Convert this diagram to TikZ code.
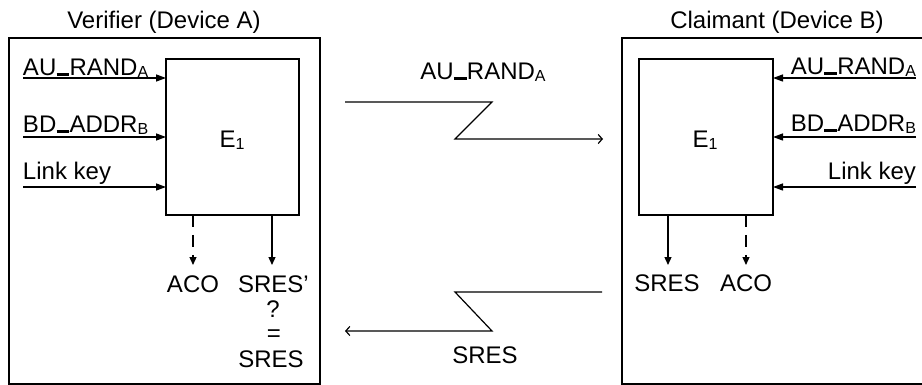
\documentclass[tikz,border=0pt]{standalone}
\usepackage{fontspec}
\setmainfont{Liberation Sans}
\usetikzlibrary{arrows.meta}
\newcommand\subs[1]{\raisebox{-1.5pt}{\fontsize{16}{16}\selectfont #1}}
\newcommand\usc{\kern0.01em\rule{0.53em}{0.12em}\kern0.01em}
\begin{document}
\begin{tikzpicture}[x=1pt,y=-1pt,
  every node/.style={font=\fontsize{24}{28}\selectfont, inner sep=0pt, outer sep=0pt},
  box/.style={draw, line width=1.6pt, minimum width=#1, anchor=north west},
  inarrow/.style={line width=1.3pt, -{Triangle[length=10pt,width=7pt]}},
  outarrow/.style={line width=1.3pt, -{Triangle[length=8pt,width=7pt]}},
  dasharrow/.style={outarrow, dash pattern=on 12pt off 8pt},
  link/.style={line width=1.2pt, -{Straight Barb[length=4pt,width=9pt]}}]
\useasboundingbox (0,0) rectangle (922,385);
\clip (0,0) rectangle (922,385);

% outer boxes
\node[box=311pt, minimum height=346pt] (devA) at (9,38) {};
\node[box=312pt, minimum height=346pt] (devB) at (622,38) {};
\node[anchor=base] (titleA) at (164,29) {Verifier (Device A)};
\node[anchor=base] (titleB) at (777,29) {Claimant (Device B)};

% inner boxes
\node[box=133pt, minimum height=156pt] (E1a) at (166,59) {};
\node[box=134pt, minimum height=156pt] (E1b) at (639,59) {};
\node[anchor=base] (E1aLabel) at (232,148) {E\subs{1}};
\node[anchor=base] (E1bLabel) at (705,148) {E\subs{1}};

% inputs device A
\coordinate (ia1) at (23,78);
\coordinate (ia2) at (23,137);
\coordinate (ia3) at (23,187);
\draw[inarrow] (ia1) -- (ia1 -| E1a.west);
\draw[inarrow] (ia2) -- (ia2 -| E1a.west);
\draw[inarrow] (ia3) -- (ia3 -| E1a.west);
\node[anchor=base west] (laA1) at (23,76) {AU\usc RAND\subs{A}};
\node[anchor=base west] (laA2) at (23,133) {BD\usc ADDR\subs{B}};
\node[anchor=base west] (laA3) at (23,180) {Link key};

% inputs device B
\coordinate (ib1) at (916,78);
\coordinate (ib2) at (916,137);
\coordinate (ib3) at (916,187);
\draw[inarrow] (ib1) -- (ib1 -| E1b.east);
\draw[inarrow] (ib2) -- (ib2 -| E1b.east);
\draw[inarrow] (ib3) -- (ib3 -| E1b.east);
\node[anchor=base east] (lbB1) at (916,75) {AU\usc RAND\subs{A}};
\node[anchor=base east] (lbB2) at (916,132) {BD\usc ADDR\subs{B}};
\node[anchor=base east] (lbB3) at (916,180) {Link key};

% outputs device A
\node[anchor=base] (acoA) at (193,292) {ACO};
\node[anchor=base west] (sresA) at (238,292) {SRES'};
\node[anchor=base] (qm) at (273,317) {?};
\node[anchor=center] (eq) at (274,336) {=};
\node[anchor=base] (sresA2) at (271,367) {SRES};
\coordinate (oa1) at (193,265);
\coordinate (oa2) at (272,265);
\draw[dasharrow] (oa1 |- E1a.south) -- (oa1);
\draw[outarrow] (oa2 |- E1a.south) -- (oa2);

% outputs device B
\node[anchor=base] (sresB) at (667,291) {SRES};
\node[anchor=base] (acoB) at (746,291) {ACO};
\coordinate (ob1) at (668,265);
\coordinate (ob2) at (746,265);
\draw[outarrow] (ob1 |- E1b.south) -- (ob1);
\draw[dasharrow] (ob2 |- E1b.south) -- (ob2);

% transmissions
\coordinate (t1s) at (345,102);
\coordinate (t1a) at (492,102);
\coordinate (t1b) at (455,139);
\coordinate (t1e) at (603,139);
\draw[link] (t1s) -- (t1a) -- (t1b) -- (t1e);
\node[anchor=base] (tlab1) at (483,80) {AU\usc RAND\subs{A}};

\coordinate (t2s) at (602,292);
\coordinate (t2a) at (455,292);
\coordinate (t2b) at (492,331);
\coordinate (t2e) at (345,331);
\draw[link] (t2s) -- (t2a) -- (t2b) -- (t2e);
\node[anchor=base] (tlab2) at (485,363) {SRES};
\end{tikzpicture}
\end{document}
